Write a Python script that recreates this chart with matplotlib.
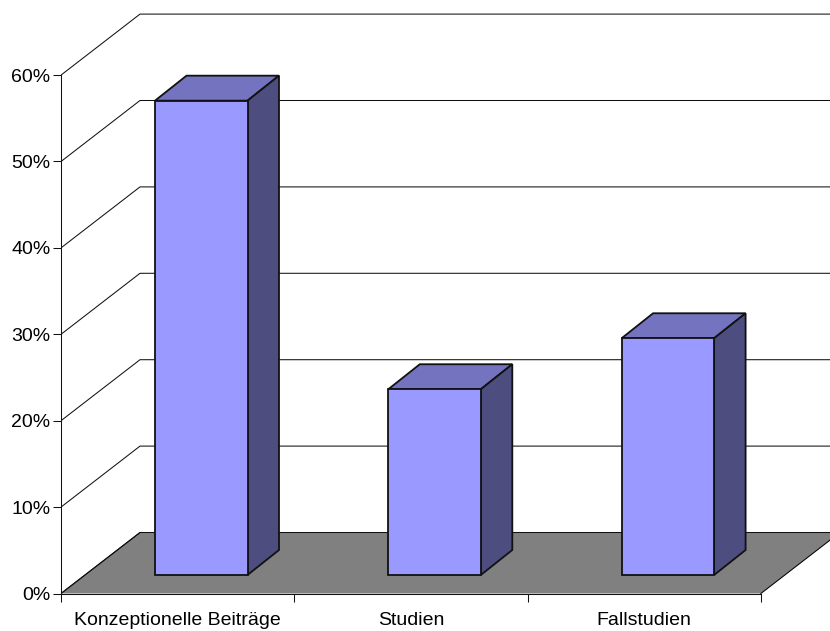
import matplotlib
matplotlib.use("Agg")
import matplotlib.pyplot as plt
from matplotlib.patches import Polygon

categories = ["Konzeptionelle Beiträge", "Studien", "Fallstudien"]
values = [54.9, 21.5, 27.4]
y_ticks = [0, 10, 20, 30, 40, 50, 60]

W, H = 830, 631
PLOT_LEFT, PLOT_BOTTOM = 61, 593.5   # pixel position of the axis origin
SLOT_PX, PCT_PX = 233.3, 8.64        # pixels per category and per percent

# Oblique offsets of the floor and the bars, in data units
FLOOR_DX, FLOOR_DY = 79 / SLOT_PX, 61 / PCT_PX
BAR_DX, BAR_DY = 31.5 / SLOT_PX, 25 / PCT_PX
BASE_DX, BASE_DY = 23.6 / SLOT_PX, 18.5 / PCT_PX
BAR_WIDTH = 92.5 / SLOT_PX

FRONT, TOP, SIDE, FLOOR = "#9999FF", "#7373BF", "#4D4D80", "#808080"
INK = "#111111"
THIN, EDGE = 0.75, 1.3

plt.rcParams["font.family"] = ["Liberation Sans", "DejaVu Sans"]
fig = plt.figure(figsize=(W / 100, H / 100), dpi=100, facecolor="white")
ax = fig.add_axes([PLOT_LEFT / W, (H - PLOT_BOTTOM) / H,
                   (W - PLOT_LEFT) / W, PLOT_BOTTOM / H])
ax.set_xlim(0, (W - PLOT_LEFT) / SLOT_PX)
ax.set_ylim(0, PLOT_BOTTOM / PCT_PX)
ax.patch.set_alpha(0)
n = len(categories)

# Floor plane
ax.add_patch(Polygon([(0, 0), (n, 0), (n + FLOOR_DX, FLOOR_DY), (FLOOR_DX, FLOOR_DY)],
                     closed=True, facecolor=FLOOR, edgecolor="none", zorder=1))
ax.plot([0, FLOOR_DX], [0, 0 + FLOOR_DY], color="black", lw=THIN, zorder=1.5)
ax.plot([n, n + FLOOR_DX], [0, FLOOR_DY], color="black", lw=THIN, zorder=1.5)

# Gridlines: a diagonal on the side wall, then a horizontal on the back wall
for t in y_ticks:
    ax.plot([0, FLOOR_DX, n + FLOOR_DX], [t, t + FLOOR_DY, t + FLOOR_DY],
            color=INK, lw=THIN, zorder=1.5, solid_joinstyle="miter")

# Bars: front face through bar(), with top and side faces attached to it
centers = [i + 0.5 + BASE_DX for i in range(n)]
ax.bar(centers, values, width=BAR_WIDTH, bottom=BASE_DY, color=FRONT,
       edgecolor=INK, linewidth=EDGE, zorder=4)
for c, v in zip(centers, values):
    x0, x1 = c - BAR_WIDTH / 2, c + BAR_WIDTH / 2
    y0, y1 = BASE_DY, BASE_DY + v
    ax.add_patch(Polygon([(x0, y1), (x1, y1), (x1 + BAR_DX, y1 + BAR_DY), (x0 + BAR_DX, y1 + BAR_DY)],
                         closed=True, facecolor=TOP, edgecolor=INK, linewidth=EDGE, zorder=3))
    ax.add_patch(Polygon([(x1, y0), (x1 + BAR_DX, y0 + BAR_DY), (x1 + BAR_DX, y1 + BAR_DY), (x1, y1)],
                         closed=True, facecolor=SIDE, edgecolor=INK, linewidth=EDGE, zorder=3))

# Axes
for side in ("top", "right"):
    ax.spines[side].set_visible(False)
ax.spines["left"].set_bounds(0, 60)
ax.spines["bottom"].set_bounds(0, n)
for side in ("left", "bottom"):
    ax.spines[side].set_linewidth(THIN)
    ax.spines[side].set_color(INK)
    ax.spines[side].set_zorder(2)

ax.set_yticks(y_ticks)
ax.set_yticklabels([f"{t}%" for t in y_ticks])
ax.set_xticks(range(n + 1))
ax.set_xticklabels([])
ax.set_xticks([i + 0.5 for i in range(n)], labels=categories, minor=True)
ax.tick_params(axis="both", which="major", length=6, width=THIN, color=INK)
ax.tick_params(axis="y", which="major", labelsize=14, pad=1.5, labelcolor="black")
ax.tick_params(axis="x", which="minor", length=0, labelsize=14, pad=13.5, labelcolor="black")

fig.savefig("out.png", dpi=100, facecolor="white")
